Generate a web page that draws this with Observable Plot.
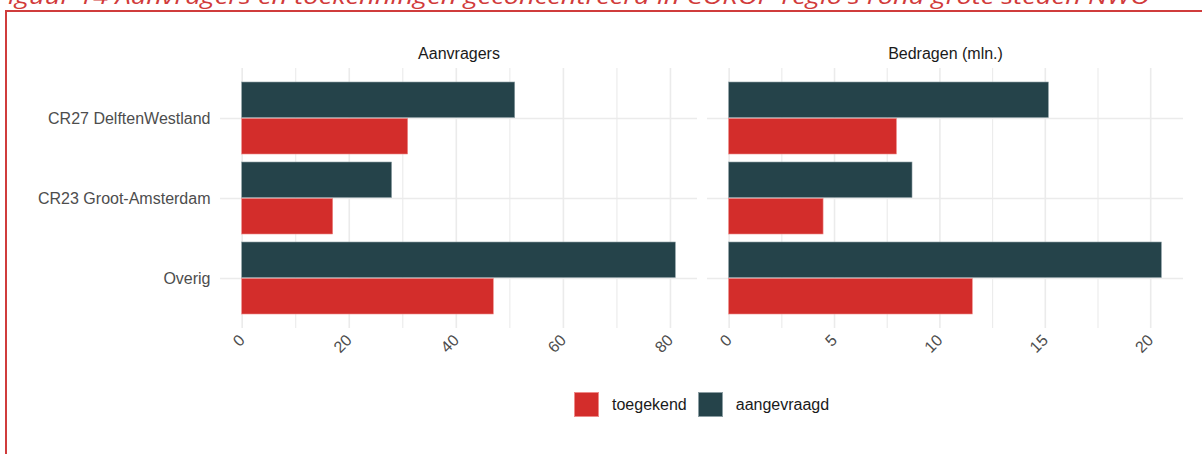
<!DOCTYPE html>
<html><head><meta charset="utf-8">
<script src="https://cdn.jsdelivr.net/npm/d3@7"></script>
<script src="https://cdn.jsdelivr.net/npm/@observablehq/plot@0.6"></script>
<style>
html,body{margin:0;padding:0;background:#fff;width:1202px;height:454px;overflow:hidden;font-family:"Liberation Sans",Arial,sans-serif;}
#frame{position:absolute;left:5px;top:10px;width:1300px;height:600px;border:2px solid #d03c3c;box-sizing:border-box;}
#title{position:absolute;left:0;top:0;}
.panel{position:absolute;top:0;}
#legend{position:absolute;left:574px;top:392px;display:flex;align-items:center;font-size:16px;color:#1a1a1a;}
#legend .sw{width:25px;height:25px;box-sizing:border-box;display:inline-block;}
#legend .lab{margin-left:13px;margin-right:11px;}
</style>
</head><body>
<div id="frame"></div>
<svg id="title" width="1202" height="12"><text id="ttl" x="-5" y="4" font-family="'Open Sans',sans-serif" font-style="italic" font-size="22" fill="#d13b3b" textLength="1155" lengthAdjust="spacingAndGlyphs"></text></svg>
<div id="p1" class="panel" style="left:0px"></div>
<div id="p2" class="panel" style="left:700px"></div>
<div id="legend"></div>
<script>
const chartTitle = "Figuur 14 Aanvragers en toekenningen geconcentreerd in COROP-regio's rond grote steden NWO";
const categories = ["CR27 DelftenWestland", "CR23 Groot-Amsterdam", "Overig"];
const seriesNames = ["toegekend", "aangevraagd"];
const seriesColors = ["#d32d2b", "#25434a"];
const facetTitles = ["Aanvragers", "Bedragen (mln.)"];
const aanvragersToegekend = [31, 17, 47];
const aanvragersAangevraagd = [51, 28, 81];
const bedragenToegekend = [7.96, 4.48, 11.56];
const bedragenAangevraagd = [15.17, 8.70, 20.53];
const aanvragersTicks = [0, 20, 40, 60, 80];
const aanvragersMinor = [10, 30, 50, 70];
const bedragenTicks = [0, 5, 10, 15, 20];
const bedragenMinor = [2.5, 7.5, 12.5, 17.5];

document.getElementById("ttl").textContent = chartTitle;

function rowsOf(toeg, aang) {
  const rows = [];
  categories.forEach((c, i) => {
    rows.push({category: c, series: "toegekend", value: toeg[i]});
    rows.push({category: c, series: "aangevraagd", value: aang[i]});
  });
  return rows;
}

const H = 380, MT = 68, MB = 52;
const pIn = 0.1, pOut = 0.155;
const step = (H - MT - MB) / (categories.length - pIn + 2 * pOut);
const half = step * (1 - pIn) / 2;

function panel(el, {width, ml, mr, toeg, aang, ticks, minor, title, showY}) {
  const rows = rowsOf(toeg, aang);
  const maxV = d3.max(rows, d => d.value);
  const pad = maxV * 0.05;
  const chart = Plot.plot({
    width, height: H, marginLeft: ml, marginRight: mr, marginTop: MT, marginBottom: MB,
    style: {fontFamily: "'Liberation Sans', Arial, sans-serif", fontSize: "16px", color: "#4d4d4d", background: "transparent", overflow: "visible"},
    x: {domain: [-pad, maxV + pad], label: null, axis: null},
    y: {domain: categories, paddingInner: pIn, paddingOuter: pOut, label: null, axis: null},
    marks: [
      Plot.gridX(minor, {stroke: "#ebebeb", strokeOpacity: 1, strokeWidth: 1.1}),
      Plot.gridX(ticks, {stroke: "#ebebeb", strokeOpacity: 1, strokeWidth: 1.6}),
      Plot.gridY(categories, {stroke: "#ebebeb", strokeOpacity: 1, strokeWidth: 1.6}),
      Plot.barX(rows.filter(d => d.series === "aangevraagd"), {x: "value", y: "category", fill: seriesColors[1], stroke: "#8c9ea3", strokeWidth: 0.6, insetBottom: half}),
      Plot.barX(rows.filter(d => d.series === "toegekend"), {x: "value", y: "category", fill: seriesColors[0], stroke: "#ee8a88", strokeWidth: 0.6, insetTop: half}),
      Plot.axisX(ticks, {tickSize: 0, tickPadding: 9, tickRotate: -45, fontSize: 16, fill: "#4d4d4d", label: null}),
      showY ? Plot.axisY({tickSize: 0, tickPadding: 10, fontSize: 16, fill: "#4d4d4d", label: null}) : null,
      Plot.text([title], {frameAnchor: "top", dy: -15, text: d => d, fontSize: 16, fill: "#1a1a1a", lineAnchor: "middle"})
    ]
  });
  el.appendChild(chart);
}

panel(document.getElementById("p1"), {width: 700, ml: 220, mr: 3, toeg: aanvragersToegekend, aang: aanvragersAangevraagd, ticks: aanvragersTicks, minor: aanvragersMinor, title: facetTitles[0], showY: true});
panel(document.getElementById("p2"), {width: 502, ml: 7, mr: 19, toeg: bedragenToegekend, aang: bedragenAangevraagd, ticks: bedragenTicks, minor: bedragenMinor, title: facetTitles[1], showY: false});

const legend = document.getElementById("legend");
seriesNames.forEach((s, i) => {
  const sw = document.createElement("span");
  sw.className = "sw";
  sw.style.background = seriesColors[i];
  sw.style.border = "1px solid " + (i === 0 ? "#ee8a88" : "#8c9ea3");
  const lab = document.createElement("span");
  lab.className = "lab";
  lab.textContent = s;
  legend.appendChild(sw);
  legend.appendChild(lab);
});
</script>
</body></html>
